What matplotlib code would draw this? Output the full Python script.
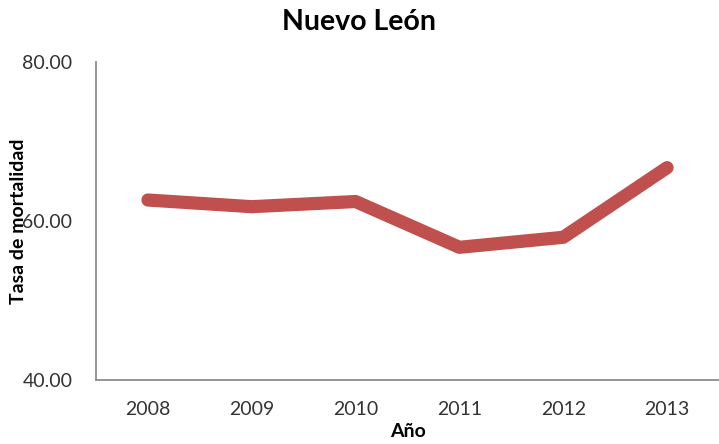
import matplotlib.pyplot as plt

# data
years = ['2008', '2009', '2010', '2011', '2012', '2013']
tasa = [62.64, 61.8, 62.45, 56.69, 57.95, 66.71]
y_ticks = [40, 60, 80]

plt.rcParams['font.family'] = ['Lato', 'DejaVu Sans']

fig = plt.figure(figsize=(7.19, 4.44), dpi=100)
ax = fig.add_axes([96 / 719, 1 - 380 / 444, 623 / 719, 318 / 444])

ax.plot(range(len(years)), tasa, color='#C0504D', linewidth=9.5,
        solid_capstyle='round', solid_joinstyle='round')

ax.set_xlim(-0.5, len(years) - 0.5)
ax.set_ylim(40, 80)
ax.set_xticks(range(len(years)))
ax.set_xticklabels(years)
ax.set_yticks(y_ticks)
ax.set_yticklabels([f'{v:.2f}' for v in y_ticks])
ax.tick_params(length=0, labelsize=14, colors='#333333', pad=17)
ax.tick_params(axis='x', pad=15)

for s in ['top', 'right']:
    ax.spines[s].set_visible(False)
for s in ['left', 'bottom']:
    ax.spines[s].set_color('#8c8c8c')
    ax.spines[s].set_linewidth(1.3)

ax.set_ylabel('Tasa de mortalidad', fontsize=14, fontweight='bold')
ax.yaxis.set_label_coords(-69 / 623, 0.5)
ax.set_xlabel('Año', fontsize=14, fontweight='bold')
ax.xaxis.set_label_coords(0.5, -43 / 318)
fig.text(0.5, 1 - 22 / 444, 'Nuevo León', ha='center', va='center',
         fontsize=20.5, fontweight='bold')

fig.savefig('out.png', dpi=100)
